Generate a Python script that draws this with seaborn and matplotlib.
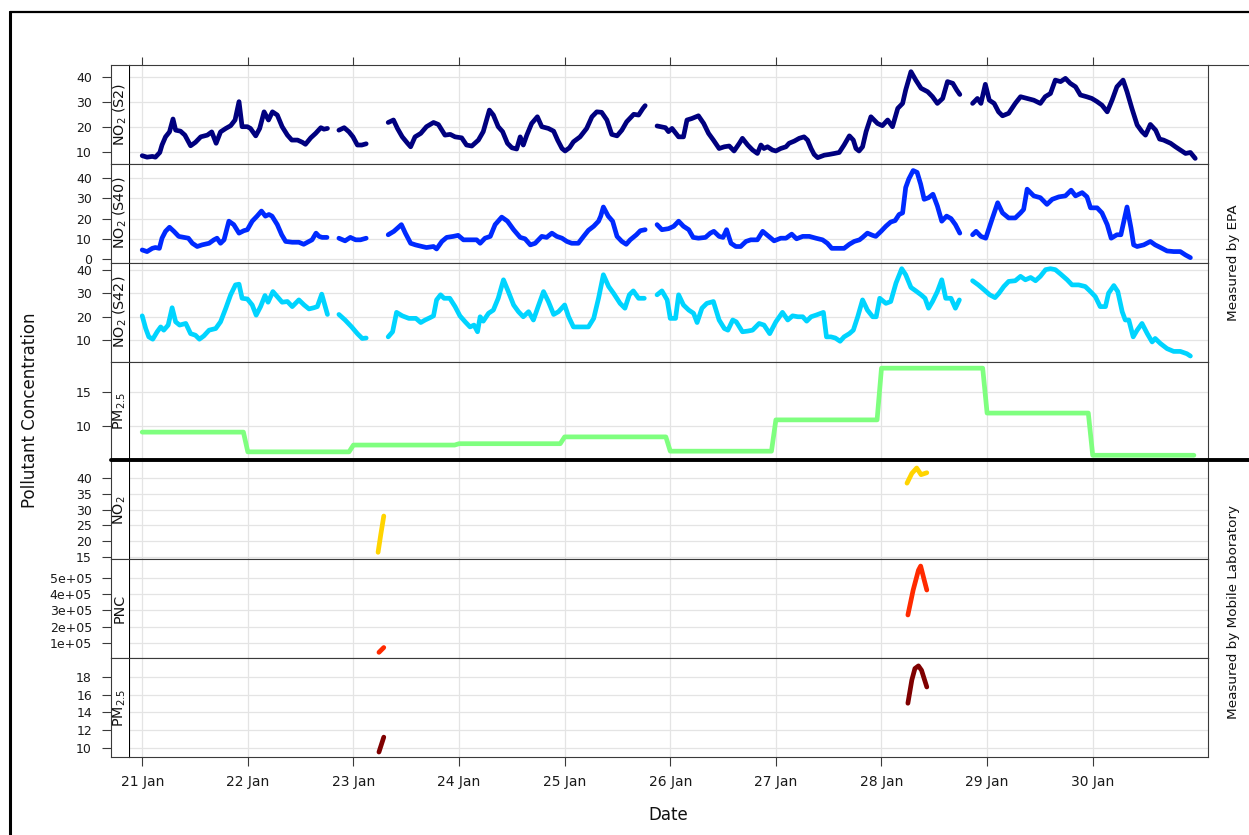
import numpy as np
import pandas as pd
import matplotlib
matplotlib.use("Agg")
import matplotlib.pyplot as plt
from matplotlib.lines import Line2D
import seaborn as sns

nan = np.nan

# ---------------- data (hours since 21 Jan 00:00; nan = gap) ----------------
s2_hours = [0, 1.1, 2.3, 3, 4, 4.5, 5.3, 6.2, 7, 7.6, 8.7, 9.7, 11, 12.1, 13.3, 14.8, 15.8, 16.8, 17.8, 19,
            20.1, 21.1, 22, 22.7, 23.9, 24.6, 25.8, 26.7, 27.7, 28.7, 29.6, 30.7, 31.8, 33, 34, 35.3, 36.4, 37.1,
            38.3, 39.4, 40.6, 41.3, 42.1, nan,
            44.7, 45.9, 47, 47.9, 48.9, 49.9, 50.9, nan,
            55.9, 57.1, 58, 59.1, 60.3, 61, 62, 63.3, 64.6, 66.2, 67.3, 68.8, 70, 71.1, 72.6, 73.7, 74.9, 76.4,
            77.5, 78.9, 79.8, 80.9, 81.9, 83, 84, 85.1, 85.9, 86.6, 87.4, 88.5, 89.8, 90.8, 92.3, 93.5, 94.4, 95.4,
            96.1, 97.1, 98, 99.5, 101, 102.2, 103.3, 104.4, 105.6, 106.7, 107.9, 109, 110.1, 111.7, 112.8, 113.8,
            114.3, nan,
            117, 118.9, 119.6, 120.4, 121.9, 123, 123.8, 124.9, 126.4, 127.6, 128.7, 129.8, 131.1, 132.3, 133.4,
            134.5, 135.7, 136.4, 137.6, 138.7, 139.8, 140.6, 141.3, 142.1, 143.2, 144, 145.1, 146.3, 147, 148.2,
            149.3, 150.4, 151.2, 152, 152.7, 153.5, 155, 156.1, 157.3, 158.4, 159.5, 160.7, 161.6, 162.2, 162.9,
            163.7, 164.5, 165.6, 167.1, 168.2, 169.4, 170.5, 171.7, 172.8, 173.5, 174.7, 175.8, 177, 178.5, 179.6,
            180.7, 181.9, 183, 184.2, 185.1, 185.8, nan,
            188.7, 189.8, 190.6, 191.6, 192.5, 193.6, 194.6, 195.5, 196.9, 198.4, 199.6, 201.1, 202.6, 204.1,
            205.2, 206.4, 207.5, 208.7, 209.8, 210.9, 212.1, 213.2, 214.6, 215.8, 217, 218.1, 219.3, 220.4, 221.5,
            222.9, 223.8, 224.9, 226.1, 227.2, 228, 229.1, 230.3, 231.2, 232.1, 233.7, 234.8, 235.9, 237.1, 238.2,
            239.3]
s2_values = [8.4, 7.8, 8.1, 7.8, 9.7, 12.7, 16, 18, 23.2, 18.7, 18.3, 16.7, 12.4, 13.8, 16, 16.7, 18, 13.4, 18,
             19.4, 20.5, 22.8, 30.2, 20.1, 20.1, 19.4, 16.4, 19.4, 26.1, 22.8, 26.1, 24.8, 20.1, 16.7, 14.7, 14.7,
             13.8, 13.0, 15.6, 17.4, 19.7, 19.1, 19.4, nan,
             18.7, 19.7, 18, 16, 12.7, 12.7, 13.2, nan,
             21.8, 22.8, 19.4, 16, 13.4, 12, 16, 17.4, 20.1, 21.8, 21, 16.7, 17, 16, 15.6, 12.7, 12.3, 14.7, 18.1,
             26.8, 24.8, 20.1, 18.1, 13.4, 11.6, 11.1, 16, 12.7, 16.7, 21.4, 24.1, 20.1, 19.4, 18.3, 14.7, 11.3,
             10.3, 11.6, 14, 16, 19.4, 24.1, 26.1, 25.9, 22.8, 17, 16.4, 18.7, 22.1, 25.1, 24.8, 27.5, 28.6, nan,
             20.4, 19.7, 18.1, 19.4, 16, 16, 22.8, 23.4, 24.5, 21.4, 17.4, 14.7, 11.3, 12, 12.3, 10.3, 13.4, 15.4,
             12.7, 10.7, 9.3, 12.7, 11.3, 12, 10.7, 10.3, 11.3, 12, 13.4, 14.3, 15.4, 16, 14.7, 11.3, 8.9, 7.6, 8.6,
             8.9, 9.3, 9.7, 12.7, 16.4, 14.7, 11.3, 10.3, 12, 18.1, 24.1, 21.4, 20.5, 22.8, 20.1, 27.5, 29.5, 34.9,
             42.3, 38.9, 35.6, 34.2, 32.2, 29.5, 31.5, 38.3, 37.6, 34.9, 33.1, nan,
             29.5, 31.5, 29.5, 37.2, 30.8, 29.5, 26.1, 24.5, 25.5, 29.5, 32.2, 31.5, 30.8, 29.5, 32.2, 33.5, 38.9,
             38.3, 39.6, 37.6, 36.2, 32.9, 32.2, 31.5, 30.2, 28.8, 26.1, 30.8, 36.2, 38.9, 34.2, 27.5, 20.8, 18.1,
             16.7, 21, 18.7, 15.1, 14.7, 13.4, 12, 10.7, 9.3, 9.7, 7.3]

s40_hours = [0, 1.1, 2.3, 3, 3.9, 4.5, 5.3, 6.2, 7.2, 8.3, 9.5, 10.5, 11.4, 12.5, 13.6, 15.2, 16.3, 17, 17.8, 18.6,
             19.7, 20.8, 22, 23.1, 23.9, 25, 26.1, 27.1, 28, 28.8, 29.5, 30.7, 31.7, 32.6, 34.1, 35.6, 36.7, 37.9,
             38.6, 39.5, 40.2, 40.9, 42, nan,
             44.7, 46.1, 47.3, 48.5, 49.6, 50.9, nan,
             55.9, 57.2, 58.9, 59.8, 61, 62.1, 63.6, 64.6, 66.2, 66.9, 68.1, 69.2, 70.7, 71.8, 73, 74.5, 76, 76.8,
             77.9, 79.1, 80.2, 81.7, 83, 84.4, 85.9, 87, 88.2, 89.3, 90.8, 91.9, 93.1, 94.2, 95.4, 96.5, 97.6, 99.1,
             100.3, 101.4, 102.6, 103.7, 104.2, 104.8, 105.9, 106.9, 107.9, 109, 110, 110.9, 112.3, 113.2, 114.3, nan,
             117, 118.1, 119.6, 120.8, 121.9, 123, 124.2, 125.2, 126.4, 128, 129.1, 129.9, 131.1, 132, 132.8, 133.8,
             134.9, 136, 137.2, 138.3, 139.8, 141, 142.1, 143.6, 145.1, 146.3, 147.6, 148.7, 150.1, 151.6, 153.1,
             154.6, 155.7, 156.7, 158, 159.5, 160.7, 161.8, 163, 163.7, 164.8, 166, 166.7, 167.9, 169, 170.1, 171.1,
             172, 172.8, 173.5, 174.2, 175.2, 176.1, 176.9, 177.7, 178.7, 179.7, 180.7, 181.7, 182.8, 183.8, 184.8,
             185.8, nan,
             188.7, 189.5, 190.6, 191.7, 193.1, 194.4, 195.5, 196.9, 198.4, 199.6, 200.3, 201.1, 202.6, 204.1,
             205.6, 206.8, 208.3, 209.8, 211.1, 212.1, 213.6, 214.7, 215.5, 217, 218.1, 219.3, 220.2, 221.5, 222.4,
             223.8, 224.7, 225.3, 226.1, 227.6, 229.1, 230.2, 231.4, 232.9, 234.4, 235.9, 237.1, 238.2]
s40_values = [4.5, 3.7, 5.3, 5.7, 5.3, 10.3, 13.7, 15.7, 13.7, 11.2, 10.7, 10.3, 7.8, 6.2, 7, 7.8, 9.5, 10.3, 7.8,
              9.5, 18.7, 17, 12.8, 14, 14.5, 18.7, 21.2, 23.7, 21.2, 22, 21.2, 17, 12, 8.7, 8.3, 8.3, 7.3, 8.7, 9.5,
              12.8, 11.2, 10.7, 10.7, nan,
              10.3, 9, 10.7, 9.5, 9.5, 10.3, nan,
              12, 13.7, 17, 12.8, 7.8, 7, 6.2, 5.7, 6.2, 5, 8.7, 10.7, 11.2, 11.7, 9.5, 9.5, 9.5, 7.8, 10.3, 11.2,
              17, 20.7, 18.7, 14.5, 10.7, 10, 7, 7.8, 11.2, 10.7, 12.8, 11.2, 10.3, 8.7, 7.8, 7.8, 11.2, 14.2, 16.2,
              18.7, 21.2, 25.7, 21.2, 18.7, 11.2, 8.7, 7.3, 9.5, 12, 14, 14.5, nan,
              17, 14.5, 15, 16.2, 18.7, 16.2, 14.5, 10.7, 10.3, 10.7, 12.8, 13.7, 11.2, 10.7, 14.5, 7.8, 6.2, 6.2,
              8.7, 9.5, 9.5, 13.7, 11.7, 9, 10.3, 10.3, 12.3, 10, 11.2, 11.2, 10.3, 9.5, 7.8, 5.3, 5.3, 5.3, 7.3, 8.7,
              9.5, 10.7, 12.8, 11.7, 11.2, 13.7, 16.2, 18.3, 19, 22, 22.8, 35.3, 39.5, 43.7, 42.8, 37, 29.5, 30.3, 32,
              26.2, 18.7, 21.2, 20, 17, 12.8, nan,
              12, 13.7, 11.2, 10.3, 19.5, 27.8, 22.8, 20.3, 20.3, 22.8, 24.5, 34.5, 31.2, 30.3, 27, 29.5, 30.7, 31.2,
              34, 31.2, 32.8, 30.7, 25.3, 25.3, 22.8, 17, 10.3, 12, 12, 25.7, 15.3, 7, 6.2, 7, 8.7, 7, 5.7, 4, 3.7,
              3.7, 2, 0.7]

s42_hours = [0, 0.8, 1.5, 2.4, 3.4, 4.2, 4.9, 5.9, 6.8, 7.6, 8.5, 9.9, 11, 12.1, 13, 14, 15.2, 16.7, 17.8, 19,
             20.1, 21.2, 22, 22.7, 23.9, 25, 25.9, 26.9, 27.9, 28.6, 29.7, 30.7, 31.8, 33, 34.1, 35.6, 36.8, 37.9,
             39, 39.8, 40.8, 42.1, nan,
             44.7, 46.1, 47.6, 48.9, 50, 50.9, nan,
             55.9, 56.9, 57.8, 59.1, 60.6, 62.2, 63.3, 64.3, 65.4, 66.2, 66.9, 67.8, 68.6, 69.9, 71.1, 72.2, 73.4,
             74.5, 75.4, 76.2, 76.8, 77.5, 78.7, 79.8, 80.9, 82.1, 83.2, 84.4, 85.5, 86.6, 87.8, 88.9, 90.1, 91.2,
             92.3, 93.5, 94.6, 96, 96.9, 98, 99.5, 101.4, 102.6, 103.7, 104.8, 106, 107.1, 108.6, 109.7, 110.7,
             111.6, 112.8, 114.1, nan,
             117, 118.1, 119.3, 120, 121.2, 121.9, 123, 124.2, 125.3, 126.1, 127.2, 128.3, 129.8, 131.1, 132.3,
             133.1, 134.2, 135, 136.4, 137.6, 138.7, 140.2, 141.3, 142.6, 144, 145.5, 146.7, 147.8, 149, 150.1, 151,
             152, 153.1, 154.8, 155.5, 156.5, 157.5, 158.6, 159.5, 160.7, 161.6, 162.6, 163.7, 164.8, 166, 166.8,
             167.6, 169, 170.1, 171.3, 172.6, 173.5, 174.7, 175.8, 177, 177.9, 178.7, 179.6, 180.7, 181.7, 182.6,
             183.8, 184.8, 185.7, nan,
             188.7, 190, 191.3, 192.6, 193.8, 194.7, 195.8, 196.9, 198.4, 199.6, 200.7, 201.9, 203, 204.1, 205.3,
             206.4, 207.5, 208.7, 210.2, 211.3, 212.8, 214.3, 215.5, 216.6, 217.7, 218.9, 219.6, 220.8, 221.7, 222.7,
             223.4, 224.2, 225.2, 226.1, 227.2, 228.4, 229.5, 230.2, 231.4, 232.9, 234.4, 235.9, 237.4, 238.2]
s42_values = [20.3, 14.8, 11.2, 10.2, 13.4, 15.5, 14.1, 16.3, 23.8, 17.7, 16.3, 17, 12.6, 11.9, 10.2, 11.6, 14.1,
              14.8, 17.7, 23.6, 29.4, 33.7, 34, 27.9, 27.6, 25, 20.6, 24.3, 29.1, 26.2, 30.8, 28.6, 26.2, 26.5, 24.3,
              27.2, 25, 23.3, 23.8, 24.3, 29.7, 20.9, nan,
              20.9, 18.5, 15.5, 12.6, 10.5, 10.7, nan,
              11.2, 13.4, 21.8, 20.3, 19.2, 19.2, 17.4, 18.5, 19.5, 20.3, 27.2, 29.4, 27.9, 27.9, 24.3, 20.3, 17.7,
              15.5, 16.3, 13.4, 19.9, 18, 21.4, 22.8, 27.9, 35.9, 30.8, 25, 22.1, 19.9, 22.1, 18.5, 25, 30.8, 26.5,
              20.9, 22.1, 25, 19.9, 15.5, 15.5, 15.5, 19.2, 27.9, 38.1, 33, 30.1, 25.7, 23.6, 29.4, 31.1, 27.9, 27.9,
              nan,
              29.4, 31.1, 27.2, 19.2, 19.2, 29.4, 25, 22.8, 21.4, 17.4, 23.6, 25.7, 26.5, 18.5, 14.8, 14.1, 18.5,
              17.7, 13.4, 13.7, 14.1, 17, 16.3, 12.6, 17.7, 21.8, 18.5, 20.3, 19.9, 19.9, 18, 19.9, 20.6, 21.8, 11.2,
              11.2, 10.7, 9.3, 11.2, 12.6, 14.1, 19.9, 27.2, 22.8, 19.9, 19.9, 27.9, 25.7, 26.5, 34.5, 40.7, 38.1,
              32.6, 31.1, 29.4, 27.9, 23.6, 26.5, 30.8, 35.9, 27.9, 27.9, 23.6, 27.2, nan,
              35.5, 33.7, 31.6, 29.4, 28.2, 30.1, 33, 35.2, 35.5, 37.4, 35.9, 36.9, 35.5, 37.4, 40.3, 40.7, 40.3,
              38.4, 35.9, 33.7, 33.7, 33, 30.8, 28.6, 24.3, 24.3, 30.1, 33.4, 30.8, 22.1, 18.5, 18.5, 11.2, 14.1, 17,
              12.6, 9, 10.5, 8.3, 6.1, 4.9, 4.9, 3.9, 2.9]

# EPA PM2.5: one value per day, reported hourly
pm25_epa_daily = [9.1, 6.2, 7.2, 7.4, 8.4, 6.3, 10.9, 18.5, 11.9, 5.7]

# Mobile laboratory
mob_no2_hours = [53.6, 54.2, 54.9, nan, 173.8, 174.9, 176.0, 177.0, 178.3]
mob_no2_values = [16.5, 22.0, 28.0, nan, 38.4, 41.5, 43.2, 41.1, 41.7]
mob_pnc_hours = [53.8, 54.9, nan, 174.0, 175.2, 176.4, 176.9, 177.7, 178.3]
mob_pnc_values = [4.0e4, 7.0e4, nan, 2.72e5, 4.27e5, 5.5e5, 5.76e5, 4.9e5, 4.27e5]
mob_pm25_hours = [53.8, 54.9, nan, 174.0, 174.9, 175.6, 176.4, 177.1, 178.3]
mob_pm25_values = [9.5, 11.2, nan, 15.05, 17.7, 19.0, 19.3, 18.8, 16.9]

day_labels = ["21 Jan", "22 Jan", "23 Jan", "24 Jan", "25 Jan", "26 Jan", "27 Jan", "28 Jan", "29 Jan", "30 Jan"]
panel_labels = [r"NO$_2$ (S2)", r"NO$_2$ (S40)", r"NO$_2$ (S42)", r"PM$_{2.5}$", r"NO$_2$", "PNC", r"PM$_{2.5}$"]
group_labels = ["Measured by EPA", "Measured by Mobile Laboratory"]
y_ticks = [[10, 20, 30, 40], [0, 10, 20, 30, 40], [10, 20, 30, 40], [10, 15],
           [15, 20, 25, 30, 35, 40], [1e5, 2e5, 3e5, 4e5, 5e5], [10, 12, 14, 16, 18]]
y_tick_labels = [["10", "20", "30", "40"], ["0", "10", "20", "30", "40"], ["10", "20", "30", "40"], ["10", "15"],
                 ["15", "20", "25", "30", "35", "40"], ["1e+05", "2e+05", "3e+05", "4e+05", "5e+05"],
                 ["10", "12", "14", "16", "18"]]

# ---------------- style ----------------
sns.set_theme(style="white")
plt.rcParams['font.family'] = ['DejaVu Sans']
plt.rcParams['mathtext.default'] = 'regular'

panel_colors = ["#00007F", "#002AFF", "#00D4FF", "#7FFF7F", "#FFD400", "#FF2A00", "#7F0000"]
y_limits = [(5.1, 45.0), (-1.8, 47.0), (0.5, 43.3), (4.94, 19.47), (14.3, 45.6), (4e3, 6.18e5), (8.94, 20.18)]

BASE = pd.Timestamp("2019-01-21")


def make_frame(hours, values):
    h = np.asarray(hours, float)
    v = np.asarray(values, float)
    seg = np.cumsum(np.isnan(v))
    df = pd.DataFrame({"time": BASE + pd.to_timedelta(np.nan_to_num(h), unit="h"), "value": v, "seg": seg})
    return df.dropna(subset=["value"])


epa_pm_hours = list(np.arange(len(pm25_epa_daily) * 24))
epa_pm_values = list(np.repeat(pm25_epa_daily, 24))

series = [(s2_hours, s2_values), (s40_hours, s40_values), (s42_hours, s42_values),
          (epa_pm_hours, epa_pm_values), (mob_no2_hours, mob_no2_values),
          (mob_pnc_hours, mob_pnc_values), (mob_pm25_hours, mob_pm25_values)]

W, H = 1249, 835
fig = plt.figure(figsize=(W / 100, H / 100), dpi=100)
fig.patch.set_facecolor("white")

top0, bot0 = 65, 757
ph = (bot0 - top0) / 7
L_strip, L_plot, R_plot = 111, 129, 1208
spine_col = "#3A3A3A"

xmin = BASE + pd.Timedelta(hours=-3.0)
xmax = BASE + pd.Timedelta(hours=242.2)
day_ticks = [BASE + pd.Timedelta(days=d) for d in range(len(day_labels))]

for i in range(7):
    top = top0 + i * ph
    y0 = 1 - (top + ph) / H
    ax = fig.add_axes([L_plot / W, y0, (R_plot - L_plot) / W, ph / H])
    sax = fig.add_axes([L_strip / W, y0, (L_plot - L_strip) / W, ph / H])

    df = make_frame(*series[i])
    sns.lineplot(data=df, x="time", y="value", units="seg", estimator=None, color=panel_colors[i],
                 lw=3.4, ax=ax, legend=False, solid_capstyle="round", solid_joinstyle="round")
    ax.set_xlim(xmin, xmax)
    ax.set_ylim(*y_limits[i])
    ax.set_xticks(day_ticks)
    ax.set_yticks(y_ticks[i])
    ax.grid(True, color="#E4E4E4", lw=0.9)
    ax.set_axisbelow(True)
    ax.set_xlabel("")
    ax.set_ylabel("")
    ax.tick_params(axis="y", left=False, right=False, labelleft=False)
    for s in ax.spines.values():
        s.set_color(spine_col)
        s.set_linewidth(0.8)
    ax.spines["left"].set_color("black")

    if i == 0:
        ax.tick_params(axis="x", top=True, bottom=False, labeltop=False, labelbottom=False,
                       direction="out", length=5.8, width=0.8, color=spine_col)
    elif i == 6:
        ax.set_xticks(day_ticks, labels=day_labels)
        ax.tick_params(axis="x", top=False, bottom=True, labelbottom=True, direction="out",
                       length=6.2, width=0.8, color=spine_col, labelsize=10, pad=7, labelcolor="#1A1A1A")
    else:
        ax.tick_params(axis="x", top=False, bottom=False, labelbottom=False)

    # left strip with y-axis
    sax.set_facecolor("white")
    sax.set_ylim(*y_limits[i])
    sax.set_xticks([])
    sax.set_yticks(y_ticks[i], labels=y_tick_labels[i])
    sax.tick_params(axis="y", left=True, direction="out", length=6.2, width=0.8, color=spine_col,
                    pad=7.5, labelsize=9, labelcolor="#1A1A1A")
    sax.grid(False)
    for s in sax.spines.values():
        s.set_color(spine_col)
        s.set_linewidth(0.8)
    sax.spines["right"].set_visible(False)
    sax.text(0.5, 0.5, panel_labels[i], rotation=90, ha="center", va="center",
             transform=sax.transAxes, fontsize=10.3, color="#111111")

# separators / right strips
y_sep = 1 - (top0 + 4 * ph) / H
fig.add_artist(Line2D([L_strip / W, 1.0], [y_sep, y_sep], transform=fig.transFigure, color="black", lw=2.8))
fig.add_artist(Line2D([R_plot / W, 1.0], [1 - top0 / H, 1 - top0 / H], transform=fig.transFigure,
                      color=spine_col, lw=0.8))
fig.text(1234 / W, 1 - (top0 + 2 * ph) / H, group_labels[0], rotation=90, ha="center", va="center",
         fontsize=9.7, color="#111111")
fig.text(1234 / W, 1 - 612 / H, group_labels[1], rotation=90, ha="center", va="center",
         fontsize=9.7, color="#111111")

# axis titles
fig.text(668 / W, 1 - 815 / H, "Date", ha="center", va="center", fontsize=12, color="#111111")
fig.text(30 / W, 1 - 410 / H, "Pollutant Concentration", rotation=90, ha="center", va="center",
         fontsize=12, color="#111111")

# outer frame (partially visible)
fig.add_artist(Line2D([10 / W, 10 / W], [0, 1 - 12 / H], transform=fig.transFigure, color="black", lw=2.2))
fig.add_artist(Line2D([10 / W, 1.0], [1 - 12 / H, 1 - 12 / H], transform=fig.transFigure, color="black", lw=1.6))

fig.savefig("out.png", dpi=100, facecolor="white")
